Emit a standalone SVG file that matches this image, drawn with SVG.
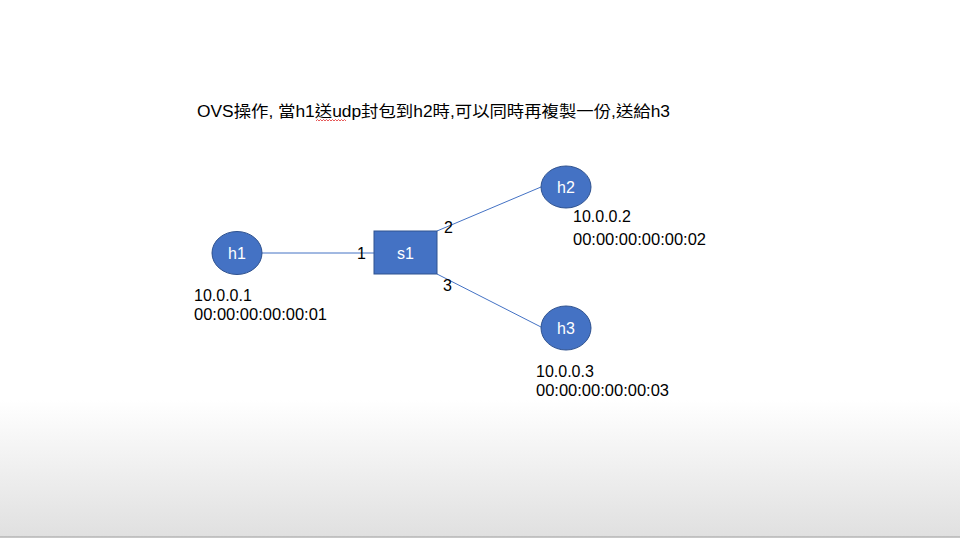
<svg xmlns="http://www.w3.org/2000/svg" width="960" height="539" viewBox="0 0 960 539">
<defs>
<linearGradient id="bg" x1="0" y1="0" x2="0" y2="1">
<stop offset="0" stop-color="#ffffff"/>
<stop offset="1" stop-color="#e0e0e0"/>
</linearGradient>
<style>
.node{fill:#4472C4;stroke:#2F528F;stroke-width:1}
.lbl{font-family:"Liberation Sans","Noto Sans CJK TC",sans-serif;font-size:16px;fill:#000}
.nl{font-family:"Liberation Sans",sans-serif;font-size:16px;fill:#fff;text-anchor:middle}
.link{stroke:#4472C4;stroke-width:1;fill:none}
</style>
</defs>
<rect x="0" y="0" width="960" height="539" fill="#fff"/>
<rect x="0" y="400" width="960" height="137" fill="url(#bg)"/>
<line x1="0" y1="537" x2="960" y2="537" stroke="#b4b4b4" stroke-width="1.5"/>
<text class="lbl" x="197" y="117" textLength="473" lengthAdjust="spacingAndGlyphs">OVS操作, 當h1送udp封包到h2時,可以同時再複製一份,送給h3</text>
<path d="M316 121 l1.5 -1.5 l1.5 1.5 l1.5 -1.5 l1.5 1.5 l1.5 -1.5 l1.5 1.5 l1.5 -1.5 l1.5 1.5 l1.5 -1.5 l1.5 1.5 l1.5 -1.5 l1.5 1.5 l1.5 -1.5 l1.5 1.5 l1.5 -1.5 l1.5 1.5 l1.5 -1.5 l1.5 1.5 l1.5 -1.5 l1.5 1.5" fill="none" stroke="#e03030" stroke-width="0.8"/>
<g id="connectors">
<line class="link" x1="262" y1="253" x2="374" y2="253"/>
<line class="link" x1="437" y1="231" x2="541" y2="187"/>
<line class="link" x1="437" y1="274" x2="541" y2="327"/>
<text class="lbl" x="357" y="259">1</text>
<text class="lbl" x="444" y="233">2</text>
<text class="lbl" x="443" y="291">3</text>
</g>
<g id="h1">
<ellipse class="node" cx="237" cy="253" rx="25" ry="21.5"/>
<text class="nl" x="237" y="259">h1</text>
<text class="lbl" x="194" y="301">10.0.0.1</text>
<text class="lbl" x="194" y="320" textLength="133" lengthAdjust="spacingAndGlyphs">00:00:00:00:00:01</text>
</g>
<g id="s1">
<rect class="node" x="374" y="231" width="63" height="43"/>
<text class="nl" x="405.5" y="259">s1</text>
</g>
<g id="h2">
<ellipse class="node" cx="566" cy="187" rx="25" ry="21"/>
<text class="nl" x="566" y="193">h2</text>
<text class="lbl" x="573" y="222">10.0.0.2</text>
<text class="lbl" x="573" y="245" textLength="133" lengthAdjust="spacingAndGlyphs">00:00:00:00:00:02</text>
</g>
<g id="h3">
<ellipse class="node" cx="566" cy="328" rx="25" ry="22"/>
<text class="nl" x="566" y="334">h3</text>
<text class="lbl" x="536" y="377">10.0.0.3</text>
<text class="lbl" x="536" y="396" textLength="133" lengthAdjust="spacingAndGlyphs">00:00:00:00:00:03</text>
</g>
</svg>
